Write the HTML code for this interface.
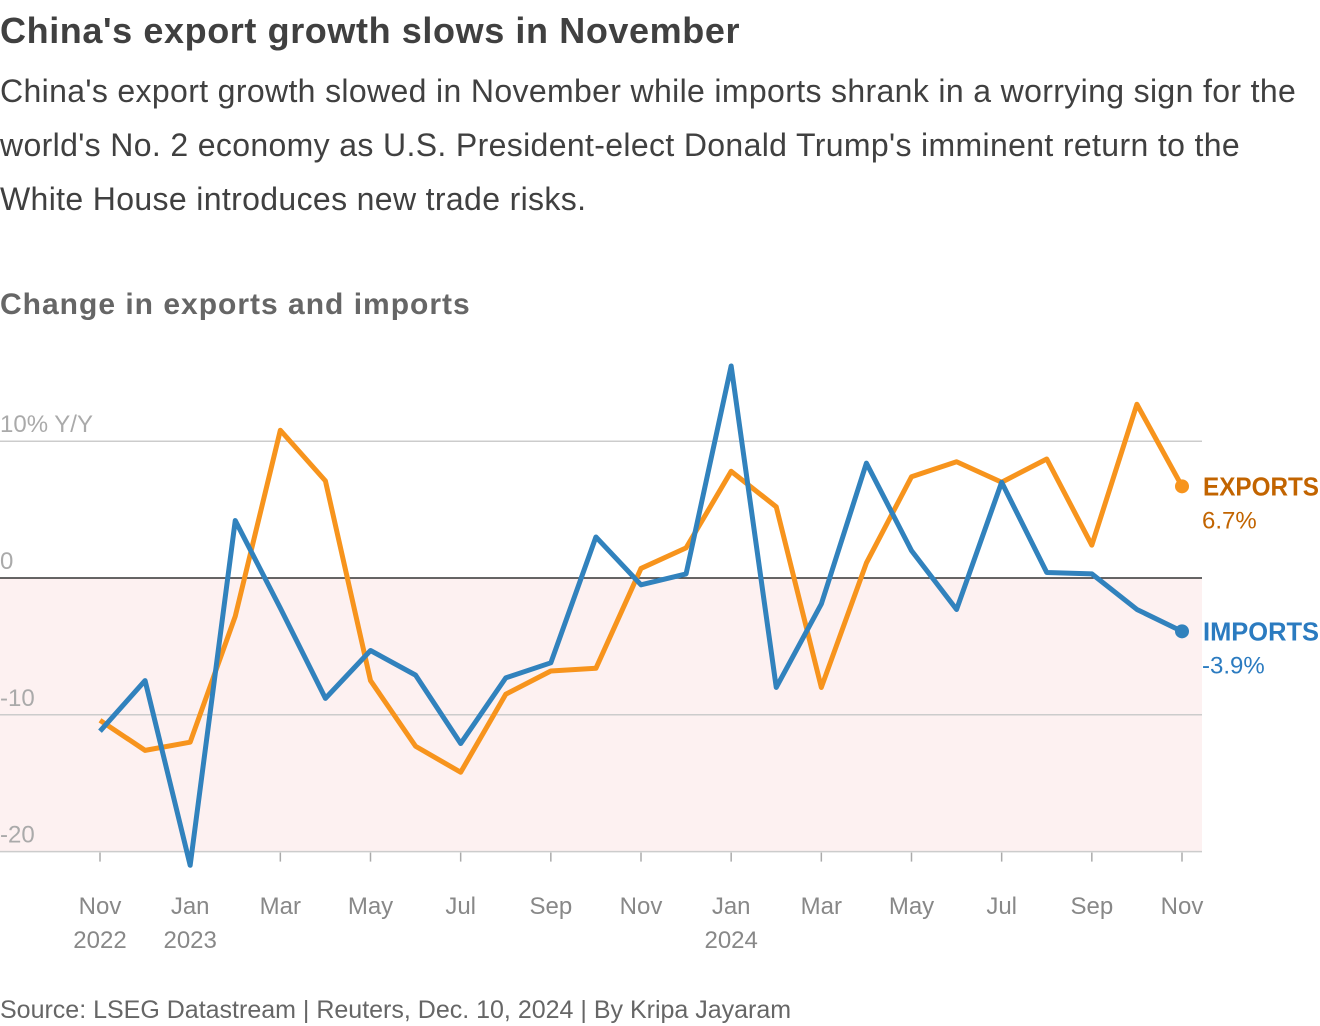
<!DOCTYPE html>
<html><head><meta charset="utf-8"><style>
body{margin:0;background:#fff;font-family:"Liberation Sans",sans-serif;}
.t{position:absolute;left:0;margin:0}
</style></head><body>
<div style="position:relative;width:1320px;height:1026px;overflow:hidden">
<h1 class="t" style="top:10px;font-size:36px;font-weight:bold;color:#404040;letter-spacing:0.6px">China's export growth slows in November</h1>
<p class="t" style="top:64px;font-size:32px;letter-spacing:0.35px;line-height:54px;color:#404040;width:1320px">China's export growth slowed in November while imports shrank in a worrying sign for the world's No. 2 economy as U.S. President-elect Donald Trump's imminent return to the White House introduces new trade risks.</p>
<p class="t" style="top:288px;font-size:30px;font-weight:bold;color:#666;letter-spacing:1px">Change in exports and imports</p>
<svg id="c" width="1320" height="1026" style="position:absolute;left:0;top:0"></svg>
<p class="t" style="top:996px;font-size:25px;color:#666">Source: LSEG Datastream | Reuters, Dec. 10, 2024 | By Kripa Jayaram</p>
</div>
<script>
const months=["Nov","Dec","Jan","Feb","Mar","Apr","May","Jun","Jul","Aug","Sep","Oct","Nov","Dec","Jan","Feb","Mar","Apr","May","Jun","Jul","Aug","Sep","Oct","Nov"];
const yearLabels={0:"2022",2:"2023",14:"2024"};
const exportsVals=[-10.4,-12.6,-12.0,-2.8,10.8,7.1,-7.5,-12.3,-14.2,-8.5,-6.8,-6.6,0.7,2.2,7.8,5.2,-8.0,1.1,7.4,8.5,7.0,8.7,2.4,12.7,6.7];
const importsVals=[-11.2,-7.5,-21.0,4.2,-2.2,-8.8,-5.3,-7.1,-12.1,-7.3,-6.2,3.0,-0.5,0.3,15.5,-8.0,-1.9,8.4,2.0,-2.3,7.0,0.4,0.3,-2.3,-3.9];
const yTicks=[10,0,-10,-20];
const yTickLabels=["10% Y/Y","0","-10","-20"];
const svg=document.getElementById('c');const NS="http://www.w3.org/2000/svg";
const x=i=>100+i*(1182-100)/24;
const y=v=>578-v*13.68;
function mk(t,a,txt){const e=document.createElementNS(NS,t);for(const k in a)e.setAttribute(k,a[k]);if(txt!=null)e.textContent=txt;svg.appendChild(e);return e;}
let r=mk('rect',{x:0,y:y(0),width:1202,height:y(-20)-y(0),fill:'#fdf1f1'});


yTicks.forEach((v,i)=>{
 let l=mk('line',{x1:0,x2:1202,y1:y(v),y2:y(v),stroke:v===0?'#333':'#ccc','stroke-width':1.5});
 
 
 let t=mk('text',{x:0,y:y(v)-9,'font-size':24,fill:'#aaa','font-family':'Liberation Sans'},yTickLabels[i]);
 
 
});
months.forEach((m,i)=>{
 if(i%2)return;
 let tk=mk('line',{x1:x(i),x2:x(i),y1:y(-20)+1,y2:y(-20)+10,stroke:'#aaa','stroke-width':1.5});
 
 
 let t=mk('text',{x:x(i),y:914,'font-size':24,fill:'#888','text-anchor':'middle','font-family':'Liberation Sans'},m);
 
 
 if(yearLabels[i]){let t2=mk('text',{x:x(i),y:948,'font-size':24,fill:'#888','text-anchor':'middle','font-family':'Liberation Sans'},yearLabels[i]);
 
 }
});
function series(vals,col,name,label,tl){
 let p=mk('polyline',{points:vals.map((v,i)=>x(i)+','+y(v)).join(' '),fill:'none',stroke:col,'stroke-width':5,'stroke-linejoin':'round'});
 
 
 const n=vals.length-1;
 let c=mk('circle',{cx:x(n),cy:y(vals[n]),r:7,fill:col});
 
 
 let t=mk('text',{x:1203,y:y(vals[n])+9,'font-size':26,'font-weight':'bold',fill:label,'font-family':'Liberation Sans',textLength:tl,lengthAdjust:'spacingAndGlyphs'},name.toUpperCase());
 
 
 let t2=mk('text',{x:1202,y:y(vals[n])+42,'font-size':24,fill:label,'font-family':'Liberation Sans'},vals[n].toFixed(1)+'%');
 
 
}
series(exportsVals,'#f7941d','exports','#c26400',116);
series(importsVals,'#3182bd','imports','#2b7bc0',116);
</script>
</body></html>
